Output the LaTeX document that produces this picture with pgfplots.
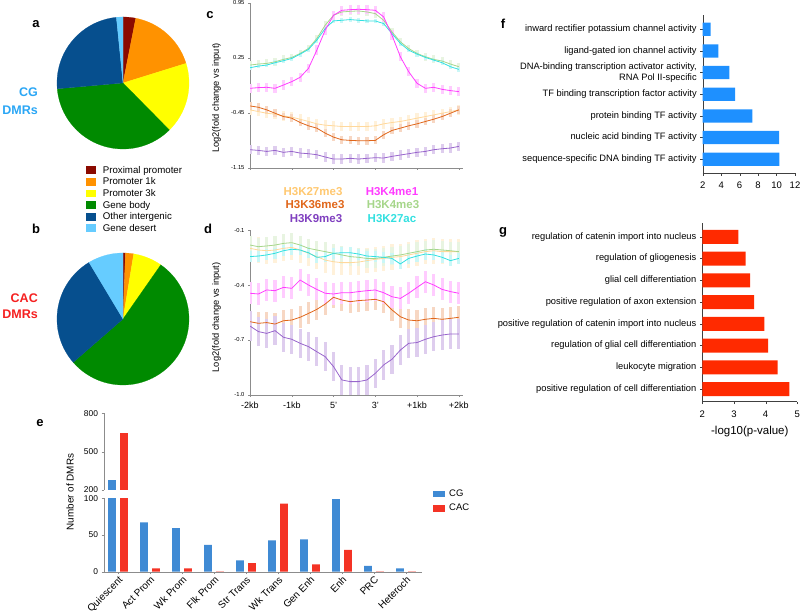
\documentclass[border=0pt]{standalone}
\usepackage{pgfplots}
\pgfplotsset{compat=1.18}
\usepackage{pgfplotstable}
\usepackage{fontspec}
\setmainfont{Liberation Sans}

\definecolor{cPP}{HTML}{8B0A00}
\definecolor{cP1}{HTML}{FF9200}
\definecolor{cP3}{HTML}{FFFF00}
\definecolor{cGB}{HTML}{008A00}
\definecolor{cOI}{HTML}{064F8E}
\definecolor{cGD}{HTML}{66CCFF}
\definecolor{kA}{HTML}{FFC870}
\definecolor{kB}{HTML}{FF3CFF}
\definecolor{kC}{HTML}{E0661A}
\definecolor{kD}{HTML}{A6D68A}
\definecolor{kE}{HTML}{7F3FBF}
\definecolor{kF}{HTML}{33E0E0}
\definecolor{fblue}{HTML}{1E90FF}
\definecolor{gred}{HTML}{FF2A00}
\definecolor{eCG}{HTML}{3F8AD4}
\definecolor{eCAC}{HTML}{F43325}
\definecolor{lblCG}{HTML}{2AA6F5}
\definecolor{lblCAC}{HTML}{F52020}

\pgfplotstableread{
x   k27    k4a    k36    k4b    k9     kac
0.0 -0.410 -0.136 -0.360 0.160 -0.917 0.126
0.2 -0.432 -0.127 -0.377 0.173 -0.926 0.147
0.4 -0.453 -0.123 -0.410 0.181 -0.939 0.160
0.6 -0.465 -0.136 -0.453 0.202 -0.926 0.190
0.8 -0.487 -0.094 -0.495 0.232 -0.951 0.215
1.0 -0.503 -0.051 -0.516 0.257 -0.939 0.244
1.2 -0.529 0.004 -0.571 0.308 -0.960 0.299
1.4 -0.558 0.118 -0.613 0.371 -0.968 0.359
1.6 -0.588 0.350 -0.643 0.498 -0.981 0.477
1.8 -0.605 0.604 -0.706 0.667 -1.010 0.625
2.0 -0.613 0.794 -0.757 0.794 -1.036 0.722
2.2 -0.622 0.857 -0.791 0.836 -1.036 0.730
2.4 -0.622 0.865 -0.799 0.844 -1.027 0.739
2.6 -0.622 0.870 -0.803 0.849 -1.036 0.730
2.8 -0.622 0.865 -0.803 0.836 -1.027 0.722
3.0 -0.613 0.857 -0.799 0.815 -1.019 0.722
3.2 -0.588 0.773 -0.727 0.730 -1.023 0.688
3.4 -0.571 0.540 -0.672 0.582 -1.002 0.561
3.6 -0.558 0.266 -0.643 0.456 -0.985 0.435
3.8 -0.537 0.075 -0.613 0.371 -0.968 0.350
4.0 -0.516 -0.072 -0.588 0.308 -0.951 0.299
4.2 -0.495 -0.136 -0.558 0.266 -0.939 0.257
4.4 -0.474 -0.123 -0.529 0.232 -0.917 0.223
4.6 -0.453 -0.149 -0.495 0.211 -0.905 0.190
4.8 -0.432 -0.165 -0.453 0.173 -0.896 0.139
5.0 -0.410 -0.178 -0.410 0.139 -0.875 0.105
}\tabc

\pgfplotstableread{
x   k27    k4a    k36    k4b    k9     kac
0.0 -0.200 -0.445 -0.600 -0.182 -0.624 -0.245
0.2 -0.209 -0.449 -0.609 -0.191 -0.654 -0.242
0.4 -0.213 -0.427 -0.605 -0.187 -0.664 -0.236
0.6 -0.209 -0.431 -0.613 -0.182 -0.649 -0.227
0.8 -0.200 -0.413 -0.595 -0.173 -0.685 -0.213
1.0 -0.195 -0.418 -0.591 -0.169 -0.696 -0.205
1.2 -0.209 -0.373 -0.576 -0.182 -0.718 -0.209
1.4 -0.227 -0.400 -0.555 -0.200 -0.736 -0.224
1.6 -0.245 -0.424 -0.533 -0.209 -0.764 -0.249
1.8 -0.264 -0.445 -0.504 -0.218 -0.791 -0.245
2.0 -0.273 -0.449 -0.467 -0.227 -0.845 -0.227
2.2 -0.278 -0.442 -0.482 -0.236 -0.918 -0.224
2.4 -0.278 -0.442 -0.491 -0.245 -0.927 -0.224
2.6 -0.275 -0.436 -0.485 -0.249 -0.927 -0.231
2.8 -0.267 -0.431 -0.482 -0.255 -0.918 -0.242
3.0 -0.260 -0.427 -0.478 -0.255 -0.882 -0.245
3.2 -0.255 -0.442 -0.491 -0.249 -0.836 -0.249
3.4 -0.249 -0.464 -0.536 -0.242 -0.805 -0.255
3.6 -0.245 -0.473 -0.573 -0.236 -0.755 -0.285
3.8 -0.236 -0.445 -0.591 -0.227 -0.718 -0.255
4.0 -0.227 -0.413 -0.595 -0.218 -0.714 -0.242
4.2 -0.218 -0.382 -0.587 -0.209 -0.696 -0.231
4.4 -0.213 -0.400 -0.582 -0.205 -0.682 -0.236
4.6 -0.218 -0.424 -0.587 -0.209 -0.673 -0.249
4.8 -0.218 -0.436 -0.582 -0.213 -0.667 -0.267
5.0 -0.218 -0.445 -0.576 -0.218 -0.667 -0.255
}\tabd

\pgfplotstableread{
x cg  cac
0 280 645
1 67.3 4.6
2 59.5 4.6
3 36.4 0.5
4 15.5 11.8
5 42.7 92.7
6 44.1 10.0
7 99.0 29.6
8 7.8 0.5
9 4.6 0.5
}\tabe

\newcommand\slice[3]{\addplot[fill=#3, draw=#3, line width=0.2pt, domain=#1:#2, samples=60] ({cos(90-3.6*x)},{sin(90-3.6*x)}) -- (axis cs:0,0) -- cycle;}
\newcommand\ebar[4]{\addplot[draw=none, mark=none, forget plot, error bars/.cd, y dir=both, y fixed=#2, error mark=none, error bar style={draw=#3!26, line width=3.2pt}] table[x=x,y=#1] {#4};}
\newcommand\sline[3]{\addplot[#2, line width=0.8pt, mark=none] table[x=x,y=#1] {#3};}

\pgfplotsset{
  every axis/.append style={scale only axis, /pgf/number format/assume math mode=true},
  pie/.style={anchor=center, width=132pt, height=132pt, xmin=-1, xmax=1, ymin=-1, ymax=1, hide axis, clip=false},
  histo/.style={anchor=south west, width=213pt, height=165pt, xmin=0, xmax=5.1,
    axis x line*=bottom, axis y line*=left, axis line style={color=black!45},
    tick style={color=black!45}, major tick length=2pt, tick align=outside,
    xtick={0,1,2,3,4,5},
    ylabel={Log2(fold change vs input)}, ylabel style={font=\fontsize{9.3}{11}\selectfont},
    yticklabel style={font=\fontsize{5.8}{7}\selectfont, /pgf/number format/fixed, /pgf/number format/fixed zerofill}},
  goax/.style={anchor=south west, axis x line*=bottom, axis y line*=left,
    axis line style={color=black!75}, tick style={color=black!75}, tick align=outside, major tick length=2.5pt,
    yticklabel style={align=right, font=\fontsize{9.3}{10.5}\selectfont},
    xticklabel style={font=\fontsize{9.5}{11}\selectfont, yshift=-3pt}},
  eax/.style={anchor=south west, width=317.7pt, xmin=-0.44, xmax=9.49, ybar=4.3pt, bar width=7.7pt,
    axis line style={color=black!45}, tick style={color=black!45}, tick align=outside, major tick length=2.5pt,
    yticklabel style={font=\fontsize{8.4}{10}\selectfont}},
}

\begin{document}
\begin{tikzpicture}
\useasboundingbox (0pt,0pt) rectangle (800pt,613pt);

% ---------- panel a ----------
\begin{axis}[pie, at={(123pt,530pt)},
  legend style={at={(axis description cs:0.215,-0.12)}, anchor=north west, draw=none, fill=none,
    inner sep=0pt, font=\fontsize{9.7}{11}\selectfont, row sep=0.7pt, nodes={inner sep=1.2pt}},
  legend cell align=left,
  legend image code/.code={\fill[#1, draw=none] (0pt,-3.6pt) rectangle (10pt,4.2pt); \path (16pt,0pt);}]
\slice{0}{3.1}{cPP}
\slice{3.1}{20.2}{cP1}
\slice{20.2}{37.6}{cP3}
\slice{37.6}{73.6}{cGB}
\slice{73.6}{98.4}{cOI}
\slice{98.4}{100}{cGD}
\legend{Proximal promoter, Promoter 1k, Promoter 3k, Gene body, Other intergenic, Gene desert}
\end{axis}

% ---------- panel b ----------
\begin{axis}[pie, at={(123pt,294pt)}]
\slice{0}{0.6}{cPP}
\slice{0.6}{2.6}{cP1}
\slice{2.6}{9.7}{cP3}
\slice{9.7}{63.6}{cGB}
\slice{63.6}{91.4}{cOI}
\slice{91.4}{100}{cGD}
\end{axis}

% ---------- panel c ----------
\begin{axis}[histo, at={(250pt,445pt)}, ymin=-1.15, ymax=0.95,
  ytick={-1.15,-0.45,0.25,0.95}, xticklabels={},
  yticklabel style={/pgf/number format/precision=2},
  ylabel style={at={(axis description cs:-0.12,0.424)}}]
\ebar{k27}{0.06}{kA}{\tabc}
\ebar{k36}{0.05}{kC}{\tabc}
\ebar{k9}{0.06}{kE}{\tabc}
\ebar{k4b}{0.05}{kD}{\tabc}
\ebar{kac}{0.03}{kF}{\tabc}
\ebar{k4a}{0.06}{kB}{\tabc}
\sline{k27}{kA!70}{\tabc}
\sline{k36}{kC}{\tabc}
\sline{k9}{kE!80}{\tabc}
\sline{k4b}{kD}{\tabc}
\sline{kac}{kF}{\tabc}
\sline{k4a}{kB}{\tabc}
\end{axis}

% ---------- panel d ----------
\begin{axis}[histo, at={(250pt,218pt)}, ymin=-1.0, ymax=-0.1,
  ytick={-1.0,-0.7,-0.4,-0.1}, xticklabels={-2kb,-1kb,5',3',+1kb,+2kb},
  xticklabel style={font=\fontsize{9}{11}\selectfont, yshift=-1.5pt},
  yticklabel style={/pgf/number format/precision=1},
  ylabel style={at={(axis description cs:-0.12,0.47)}}]
\ebar{k27}{0.07}{kA}{\tabd}
\ebar{k36}{0.06}{kC}{\tabd}
\ebar{k9}{0.08}{kE}{\tabd}
\ebar{k4b}{0.05}{kD}{\tabd}
\ebar{kac}{0.03}{kF}{\tabd}
\ebar{k4a}{0.06}{kB}{\tabd}
\sline{k27}{kA!70}{\tabd}
\sline{k36}{kC}{\tabd}
\sline{k9}{kE!80}{\tabd}
\sline{k4b}{kD}{\tabd}
\sline{kac}{kF}{\tabd}
\sline{k4a}{kB}{\tabd}
\end{axis}

% ---------- panel e (broken axis) ----------
\begin{axis}[eax, at={(104pt,41.3pt)}, height=73.4pt, ymin=0, ymax=100, ytick={0,50,100},
  axis x line*=bottom, axis y line*=left,
  xtick={0,...,9},
  xticklabels={Quiescent, Act Prom, Wk Prom, Flk Prom, Str Trans, Wk Trans, Gen Enh, Enh, PRC, Heteroch},
  xticklabel style={rotate=45, anchor=north east, font=\fontsize{10}{12}\selectfont, inner sep=1pt},
  legend style={at={(axis description cs:1.026,1.17)}, anchor=north west, draw=none, fill=none,
    font=\fontsize{9.5}{11}\selectfont, row sep=2pt, nodes={inner sep=2pt}},
  legend cell align=left,
  legend image code/.code={\fill[#1, draw=none] (0pt,-3.3pt) rectangle (11.7pt,3.4pt); \path (14pt,0pt);}]
\addplot[fill=eCG, draw=none] table[x=x,y=cg] {\tabe};
\addplot[fill=eCAC, draw=none] table[x=x,y=cac] {\tabe};
\legend{CG, CAC}
\end{axis}
\begin{axis}[eax, at={(104pt,123pt)}, height=76.7pt, ymin=200, ymax=800, ytick={200,500,800},
  axis x line=none, axis y line*=left, xtick=\empty, restrict y to domain=200:1000]
\addplot[fill=eCG, draw=none] table[x=x,y=cg] {\tabe};
\addplot[fill=eCAC, draw=none] table[x=x,y=cac] {\tabe};
\end{axis}

% ---------- panel f ----------
\begin{axis}[goax, at={(702.7pt,439.7pt)}, width=92.3pt, height=158.3pt,
  xmin=2, xmax=12, ymin=-0.65, ymax=6.66, xbar, bar width=13.3pt,
  xtick={2,4,6,8,10,12}, ytick={0,...,6},
  yticklabels={sequence-specific DNA binding TF activity, nucleic acid binding TF activity,
    protein binding TF activity, TF binding transcription factor activity,
    {DNA-binding transcription activator activity,\\RNA Pol II-specific},
    ligand-gated ion channel activity, inward rectifier potassium channel activity}]
\addplot[fill=fblue, draw=none] coordinates {(10.30,0) (10.27,1) (7.38,2) (5.50,3) (4.89,4) (3.70,5) (2.87,6)};
\end{axis}

% ---------- panel g ----------
\begin{axis}[goax, at={(702.3pt,211.3pt)}, width=95pt, height=178.4pt,
  xmin=2, xmax=5, ymin=-0.58, ymax=7.62, xbar, bar width=14pt,
  xtick={2,3,4,5}, ytick={0,...,7},
  xlabel={-log10(p-value)}, xlabel style={font=\fontsize{11.5}{13}\selectfont, inner sep=1pt, yshift=-4pt},
  yticklabels={positive regulation of cell differentiation, leukocyte migration,
    regulation of glial cell differentiation, positive regulation of catenin import into nucleus,
    positive regulation of axon extension, glial cell differentiation,
    regulation of gliogenesis, regulation of catenin import into nucleus}]
\addplot[fill=gred, draw=none] coordinates {(4.75,0) (4.38,1) (4.08,2) (3.96,3) (3.64,4) (3.51,5) (3.37,6) (3.14,7)};
\end{axis}

% ---------- texts ----------
\begin{scope}[every node/.style={font=\bfseries\fontsize{13}{15}\selectfont}]
\node at (36pt,589pt) {a};
\node at (36pt,384pt) {b};
\node at (210pt,598pt) {c};
\node at (208pt,384pt) {d};
\node at (40pt,190pt) {e};
\node at (503pt,589pt) {f};
\node at (503pt,381pt) {g};
\end{scope}
\begin{scope}[every node/.style={font=\bfseries\fontsize{12.5}{14}\selectfont, anchor=east, inner sep=0pt}]
\node[text=lblCG] at (38pt,520.3pt) {CG};
\node[text=lblCG] at (38pt,503pt) {DMRs};
\node[text=lblCAC] at (38pt,315pt) {CAC};
\node[text=lblCAC] at (38pt,299pt) {DMRs};
\end{scope}
\begin{scope}[every node/.style={font=\bfseries\fontsize{11.5}{13}\selectfont, inner sep=0pt}]
\node[text=kA] at (313pt,421pt) {H3K27me3};
\node[text=kB] at (392pt,421pt) {H3K4me1};
\node[text=kC] at (315pt,408pt) {H3K36me3};
\node[text=kD] at (393pt,408pt) {H3K4me3};
\node[text=kE] at (316pt,394pt) {H3K9me3};
\node[text=kF] at (392pt,394pt) {H3K27ac};
\end{scope}
\node[rotate=90, font=\fontsize{9.9}{11}\selectfont] at (70pt,121pt) {Number of DMRs};
\end{tikzpicture}
\end{document}
